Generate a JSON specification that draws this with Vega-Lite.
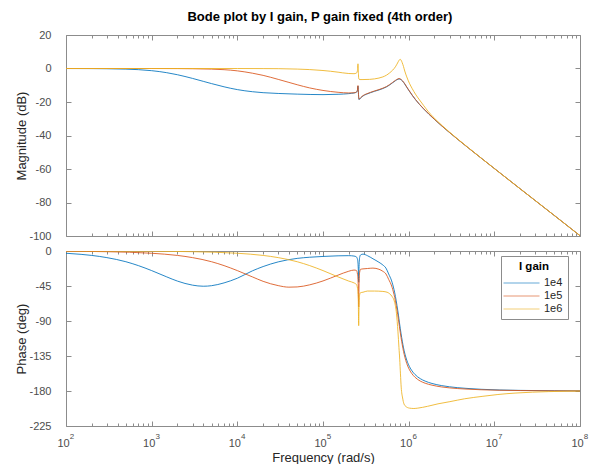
{
  "$schema": "https://vega.github.io/schema/vega-lite/v6.json",
  "background": "white",
  "padding": {"left": 15, "top": 11, "right": 5, "bottom": 0},
  "title": {"text": "Bode plot by I gain, P gain fixed (4th order)", "font": "Liberation Sans", "fontSize": 13, "fontWeight": "bold", "color": "#000000", "anchor": "middle", "offset": 5, "dx": 18},
  "config": {
    "view": {"stroke": null},
    "font": "Liberation Sans",
    "axis": {"domainColor": "#8c8c8c", "tickColor": "#8c8c8c", "labelColor": "#4d4d4d", "labelFontSize": 11, "titleFontSize": 13, "titleFontWeight": "normal", "titleColor": "#262626", "grid": false, "labelFont": "Liberation Sans", "titleFont": "Liberation Sans"}
  },
  "datasets": {
    "mag": [
      {"w":100,"g":"1e4","v":-0.02},{"w":200,"g":"1e4","v":-0.06},{"w":300,"g":"1e4","v":-0.14},{"w":500,"g":"1e4","v":-0.37},{"w":700,"g":"1e4","v":-0.69},{"w":1000,"g":"1e4","v":-1.3},{"w":1500,"g":"1e4","v":-2.5},{"w":2000,"g":"1e4","v":-3.73},{"w":3000,"g":"1e4","v":-5.92},{"w":4000,"g":"1e4","v":-7.66},{"w":5000,"g":"1e4","v":-9.02},{"w":7000,"g":"1e4","v":-10.93},{"w":10000,"g":"1e4","v":-12.6},{"w":15000,"g":"1e4","v":-13.86},{"w":20000,"g":"1e4","v":-14.44},{"w":30000,"g":"1e4","v":-14.9},{"w":50000,"g":"1e4","v":-15.3},{"w":100000,"g":"1e4","v":-15.6},{"w":150000,"g":"1e4","v":-15.4},{"w":200000,"g":"1e4","v":-15.0},{"w":230000,"g":"1e4","v":-14.6},{"w":245000,"g":"1e4","v":-14.2},{"w":252000,"g":"1e4","v":-13.2},{"w":256000,"g":"1e4","v":-10.5},{"w":258500,"g":"1e4","v":-13.5},{"w":261000,"g":"1e4","v":-17.5},{"w":263500,"g":"1e4","v":-18.6},{"w":268000,"g":"1e4","v":-18.2},{"w":275000,"g":"1e4","v":-17.6},{"w":285000,"g":"1e4","v":-16.9},{"w":293000,"g":"1e4","v":-16.4},{"w":320000,"g":"1e4","v":-15.4},{"w":360000,"g":"1e4","v":-14.4},{"w":400000,"g":"1e4","v":-13.6},{"w":450000,"g":"1e4","v":-12.8},{"w":500000,"g":"1e4","v":-11.95},{"w":550000,"g":"1e4","v":-11},{"w":600000,"g":"1e4","v":-9.8},{"w":650000,"g":"1e4","v":-8.5},{"w":700000,"g":"1e4","v":-7.3},{"w":750000,"g":"1e4","v":-6.4},{"w":773000,"g":"1e4","v":-6.2},{"w":796000,"g":"1e4","v":-6.4},{"w":850000,"g":"1e4","v":-7.6},{"w":900000,"g":"1e4","v":-9.3},{"w":950000,"g":"1e4","v":-11.2},{"w":1000000,"g":"1e4","v":-12.9},{"w":1100000,"g":"1e4","v":-16.0},{"w":1200000,"g":"1e4","v":-18.55},{"w":1340000,"g":"1e4","v":-21.5},{"w":1500000,"g":"1e4","v":-24.2},{"w":2000000,"g":"1e4","v":-30.4},{"w":3000000,"g":"1e4","v":-38.25},{"w":5000000,"g":"1e4","v":-47.5},{"w":10000000,"g":"1e4","v":-59.7},{"w":20000000,"g":"1e4","v":-71.8},{"w":50000000,"g":"1e4","v":-87.7},{"w":100000000,"g":"1e4","v":-99.8},
      {"w":100,"g":"1e5","v":0},{"w":1000,"g":"1e5","v":-0.01},{"w":2000,"g":"1e5","v":-0.06},{"w":3000,"g":"1e5","v":-0.14},{"w":5000,"g":"1e5","v":-0.37},{"w":7000,"g":"1e5","v":-0.7},{"w":10000,"g":"1e5","v":-1.4},{"w":15000,"g":"1e5","v":-2.8},{"w":20000,"g":"1e5","v":-4.1},{"w":30000,"g":"1e5","v":-6.5},{"w":40000,"g":"1e5","v":-8.3},{"w":50000,"g":"1e5","v":-9.7},{"w":70000,"g":"1e5","v":-11.6},{"w":100000,"g":"1e5","v":-13.1},{"w":150000,"g":"1e5","v":-14.2},{"w":200000,"g":"1e5","v":-14.6},{"w":230000,"g":"1e5","v":-14.5},{"w":245000,"g":"1e5","v":-14.1},{"w":252000,"g":"1e5","v":-13.0},{"w":256000,"g":"1e5","v":-10.2},{"w":258500,"g":"1e5","v":-13.3},{"w":261000,"g":"1e5","v":-17.3},{"w":263500,"g":"1e5","v":-18.4},{"w":268000,"g":"1e5","v":-18.0},{"w":275000,"g":"1e5","v":-17.4},{"w":285000,"g":"1e5","v":-16.7},{"w":293000,"g":"1e5","v":-16.2},{"w":320000,"g":"1e5","v":-15.2},{"w":360000,"g":"1e5","v":-14.2},{"w":400000,"g":"1e5","v":-13.4},{"w":450000,"g":"1e5","v":-12.6},{"w":500000,"g":"1e5","v":-11.75},{"w":550000,"g":"1e5","v":-10.8},{"w":600000,"g":"1e5","v":-9.6},{"w":650000,"g":"1e5","v":-8.3},{"w":700000,"g":"1e5","v":-7.1},{"w":750000,"g":"1e5","v":-6.2},{"w":773000,"g":"1e5","v":-6.0},{"w":796000,"g":"1e5","v":-6.2},{"w":850000,"g":"1e5","v":-7.4},{"w":900000,"g":"1e5","v":-9.1},{"w":950000,"g":"1e5","v":-11.0},{"w":1000000,"g":"1e5","v":-12.8},{"w":1100000,"g":"1e5","v":-15.9},{"w":1200000,"g":"1e5","v":-18.5},{"w":1340000,"g":"1e5","v":-21.4},{"w":1500000,"g":"1e5","v":-24.1},{"w":2000000,"g":"1e5","v":-30.35},{"w":3000000,"g":"1e5","v":-38.2},{"w":5000000,"g":"1e5","v":-47.5},{"w":10000000,"g":"1e5","v":-59.7},{"w":20000000,"g":"1e5","v":-71.8},{"w":50000000,"g":"1e5","v":-87.7},{"w":100000000,"g":"1e5","v":-99.8},
      {"w":100,"g":"1e6","v":0},{"w":1000,"g":"1e6","v":0},{"w":10000,"g":"1e6","v":0},{"w":20000,"g":"1e6","v":-0.05},{"w":30000,"g":"1e6","v":-0.1},{"w":50000,"g":"1e6","v":-0.35},{"w":70000,"g":"1e6","v":-0.65},{"w":100000,"g":"1e6","v":-1.2},{"w":150000,"g":"1e6","v":-2.2},{"w":170000,"g":"1e6","v":-2.6},{"w":200000,"g":"1e6","v":-3.0},{"w":230000,"g":"1e6","v":-3.1},{"w":245000,"g":"1e6","v":-2.8},{"w":252000,"g":"1e6","v":-1.5},{"w":256000,"g":"1e6","v":2.8},{"w":258500,"g":"1e6","v":-1},{"w":261000,"g":"1e6","v":-5.8},{"w":263500,"g":"1e6","v":-6.4},{"w":270000,"g":"1e6","v":-6.6},{"w":293000,"g":"1e6","v":-6.6},{"w":350000,"g":"1e6","v":-6.5},{"w":400000,"g":"1e6","v":-6.2},{"w":450000,"g":"1e6","v":-5.7},{"w":500000,"g":"1e6","v":-5.0},{"w":550000,"g":"1e6","v":-4.0},{"w":600000,"g":"1e6","v":-2.6},{"w":650000,"g":"1e6","v":-1.0},{"w":700000,"g":"1e6","v":1.0},{"w":730000,"g":"1e6","v":2.6},{"w":760000,"g":"1e6","v":4.3},{"w":780000,"g":"1e6","v":5.2},{"w":796000,"g":"1e6","v":5.5},{"w":815000,"g":"1e6","v":5.0},{"w":840000,"g":"1e6","v":3.5},{"w":870000,"g":"1e6","v":1.2},{"w":900000,"g":"1e6","v":-1.5},{"w":950000,"g":"1e6","v":-5.0},{"w":1020000,"g":"1e6","v":-8.8},{"w":1100000,"g":"1e6","v":-12.0},{"w":1200000,"g":"1e6","v":-15.3},{"w":1340000,"g":"1e6","v":-18.8},{"w":1500000,"g":"1e6","v":-22.2},{"w":1700000,"g":"1e6","v":-25.8},{"w":1920000,"g":"1e6","v":-28.8},{"w":2500000,"g":"1e6","v":-34.4},{"w":3000000,"g":"1e6","v":-38.0},{"w":5000000,"g":"1e6","v":-47.4},{"w":10000000,"g":"1e6","v":-59.7},{"w":20000000,"g":"1e6","v":-71.8},{"w":50000000,"g":"1e6","v":-87.7},{"w":100000000,"g":"1e6","v":-99.8}
    ],
    "ph": [
      {"w":100,"g":"1e4","v":-2.9},{"w":150,"g":"1e4","v":-4.3},{"w":200,"g":"1e4","v":-5.7},{"w":300,"g":"1e4","v":-8.5},{"w":500,"g":"1e4","v":-13.8},{"w":700,"g":"1e4","v":-18.8},{"w":1000,"g":"1e4","v":-25.2},{"w":1500,"g":"1e4","v":-33.3},{"w":2000,"g":"1e4","v":-38.7},{"w":3000,"g":"1e4","v":-43.9},{"w":4000,"g":"1e4","v":-45.3},{"w":5000,"g":"1e4","v":-44.6},{"w":7000,"g":"1e4","v":-41},{"w":10000,"g":"1e4","v":-35},{"w":15000,"g":"1e4","v":-25.5},{"w":20000,"g":"1e4","v":-20},{"w":30000,"g":"1e4","v":-14},{"w":50000,"g":"1e4","v":-9.5},{"w":70000,"g":"1e4","v":-8},{"w":100000,"g":"1e4","v":-7},{"w":150000,"g":"1e4","v":-6.2},{"w":200000,"g":"1e4","v":-6},{"w":230000,"g":"1e4","v":-6.5},{"w":245000,"g":"1e4","v":-7.5},{"w":253000,"g":"1e4","v":-11},{"w":258000,"g":"1e4","v":-22},{"w":261000,"g":"1e4","v":-40},{"w":263500,"g":"1e4","v":-20},{"w":268000,"g":"1e4","v":-8},{"w":275000,"g":"1e4","v":-5},{"w":293000,"g":"1e4","v":-4},{"w":330000,"g":"1e4","v":-6},{"w":383000,"g":"1e4","v":-10},{"w":450000,"g":"1e4","v":-14.5},{"w":500000,"g":"1e4","v":-18},{"w":543000,"g":"1e4","v":-22},{"w":584000,"g":"1e4","v":-29.5},{"w":633000,"g":"1e4","v":-38.5},{"w":674000,"g":"1e4","v":-49.5},{"w":701000,"g":"1e4","v":-58.5},{"w":730000,"g":"1e4","v":-70},{"w":760000,"g":"1e4","v":-82.5},{"w":779000,"g":"1e4","v":-91.5},{"w":799000,"g":"1e4","v":-100},{"w":828000,"g":"1e4","v":-111},{"w":857000,"g":"1e4","v":-120.5},{"w":886000,"g":"1e4","v":-128.3},{"w":925000,"g":"1e4","v":-136.3},{"w":974000,"g":"1e4","v":-143.6},{"w":1023000,"g":"1e4","v":-148.8},{"w":1091000,"g":"1e4","v":-154},{"w":1188000,"g":"1e4","v":-158.9},{"w":1364000,"g":"1e4","v":-164.1},{"w":1558000,"g":"1e4","v":-167.3},{"w":1870000,"g":"1e4","v":-170.3},{"w":2435000,"g":"1e4","v":-173.1},{"w":3000000,"g":"1e4","v":-174.6},{"w":4670000,"g":"1e4","v":-176.6},{"w":7000000,"g":"1e4","v":-177.8},{"w":11600000,"g":"1e4","v":-178.7},{"w":20000000,"g":"1e4","v":-179.2},{"w":50000000,"g":"1e4","v":-179.7},{"w":100000000,"g":"1e4","v":-179.8},
      {"w":100,"g":"1e5","v":-0.3},{"w":300,"g":"1e5","v":-0.9},{"w":1000,"g":"1e5","v":-2.9},{"w":2000,"g":"1e5","v":-5.7},{"w":3000,"g":"1e5","v":-8.5},{"w":5000,"g":"1e5","v":-13.8},{"w":7000,"g":"1e5","v":-18.8},{"w":10000,"g":"1e5","v":-25.2},{"w":15000,"g":"1e5","v":-33.3},{"w":20000,"g":"1e5","v":-39},{"w":30000,"g":"1e5","v":-44.5},{"w":40000,"g":"1e5","v":-46.5},{"w":50000,"g":"1e5","v":-46.2},{"w":70000,"g":"1e5","v":-43.5},{"w":100000,"g":"1e5","v":-38.5},{"w":150000,"g":"1e5","v":-31},{"w":200000,"g":"1e5","v":-26},{"w":230000,"g":"1e5","v":-24.5},{"w":245000,"g":"1e5","v":-25},{"w":253000,"g":"1e5","v":-30},{"w":258000,"g":"1e5","v":-45},{"w":261000,"g":"1e5","v":-72},{"w":263500,"g":"1e5","v":-42},{"w":268000,"g":"1e5","v":-27},{"w":275000,"g":"1e5","v":-23.5},{"w":293000,"g":"1e5","v":-23},{"w":330000,"g":"1e5","v":-22.5},{"w":383000,"g":"1e5","v":-22},{"w":450000,"g":"1e5","v":-23.5},{"w":500000,"g":"1e5","v":-26.1},{"w":543000,"g":"1e5","v":-29.5},{"w":584000,"g":"1e5","v":-36.5},{"w":633000,"g":"1e5","v":-45},{"w":674000,"g":"1e5","v":-55.7},{"w":701000,"g":"1e5","v":-64.5},{"w":730000,"g":"1e5","v":-75.8},{"w":760000,"g":"1e5","v":-88.1},{"w":779000,"g":"1e5","v":-96.9},{"w":799000,"g":"1e5","v":-105.2},{"w":828000,"g":"1e5","v":-116},{"w":857000,"g":"1e5","v":-125.3},{"w":886000,"g":"1e5","v":-132.9},{"w":925000,"g":"1e5","v":-140.7},{"w":974000,"g":"1e5","v":-147.8},{"w":1023000,"g":"1e5","v":-152.8},{"w":1091000,"g":"1e5","v":-157.8},{"w":1188000,"g":"1e5","v":-162.4},{"w":1364000,"g":"1e5","v":-167.2},{"w":1558000,"g":"1e5","v":-170},{"w":1870000,"g":"1e5","v":-172.5},{"w":2435000,"g":"1e5","v":-174.8},{"w":3000000,"g":"1e5","v":-176},{"w":4670000,"g":"1e5","v":-177.5},{"w":7000000,"g":"1e5","v":-178.4},{"w":11600000,"g":"1e5","v":-179.05},{"w":20000000,"g":"1e5","v":-179.4},{"w":50000000,"g":"1e5","v":-179.8},{"w":100000000,"g":"1e5","v":-179.9},
      {"w":100,"g":"1e6","v":0},{"w":1000,"g":"1e6","v":-0.3},{"w":3000,"g":"1e6","v":-0.9},{"w":10000,"g":"1e6","v":-2.9},{"w":20000,"g":"1e6","v":-5.7},{"w":30000,"g":"1e6","v":-8.5},{"w":50000,"g":"1e6","v":-13.8},{"w":70000,"g":"1e6","v":-18.8},{"w":100000,"g":"1e6","v":-25.2},{"w":150000,"g":"1e6","v":-33.3},{"w":200000,"g":"1e6","v":-38.7},{"w":230000,"g":"1e6","v":-41},{"w":245000,"g":"1e6","v":-43},{"w":253000,"g":"1e6","v":-48},{"w":258000,"g":"1e6","v":-62},{"w":261000,"g":"1e6","v":-96},{"w":263500,"g":"1e6","v":-70},{"w":268000,"g":"1e6","v":-56},{"w":275000,"g":"1e6","v":-53.5},{"w":293000,"g":"1e6","v":-53},{"w":330000,"g":"1e6","v":-51.5},{"w":400000,"g":"1e6","v":-51.5},{"w":500000,"g":"1e6","v":-52},{"w":560000,"g":"1e6","v":-53},{"w":600000,"g":"1e6","v":-55},{"w":640000,"g":"1e6","v":-58.5},{"w":686000,"g":"1e6","v":-66},{"w":720000,"g":"1e6","v":-80},{"w":750000,"g":"1e6","v":-104},{"w":770000,"g":"1e6","v":-124},{"w":786000,"g":"1e6","v":-139},{"w":802000,"g":"1e6","v":-158},{"w":818000,"g":"1e6","v":-175},{"w":850000,"g":"1e6","v":-189},{"w":881000,"g":"1e6","v":-196.5},{"w":930000,"g":"1e6","v":-200},{"w":1020000,"g":"1e6","v":-202},{"w":1150000,"g":"1e6","v":-202.5},{"w":1280000,"g":"1e6","v":-202},{"w":1660000,"g":"1e6","v":-199.7},{"w":2200000,"g":"1e6","v":-196.5},{"w":3030000,"g":"1e6","v":-193.7},{"w":4500000,"g":"1e6","v":-190},{"w":7360000,"g":"1e6","v":-186.8},{"w":11000000,"g":"1e6","v":-184.5},{"w":17900000,"g":"1e6","v":-182.6},{"w":28000000,"g":"1e6","v":-181.5},{"w":42700000,"g":"1e6","v":-180.8},{"w":70000000,"g":"1e6","v":-180.3},{"w":100000000,"g":"1e6","v":-180.1}
    ]
  },
  "spacing": 4,
  "resolve": {"scale": {"color": "independent"}, "legend": {"color": "independent"}},
  "vconcat": [
    {
      "width": 514, "height": 201,
      "data": {"name": "mag"},
      "layer": [
        {
          "mark": {"type": "line", "strokeWidth": 1, "opacity": 0.85, "clip": true, "interpolate": "monotone"},
          "encoding": {
            "x": {"field": "w", "type": "quantitative", "scale": {"type": "log", "domain": [100, 100000000], "nice": false},
                  "axis": {"orient": "bottom", "title": null, "labels": false, "values": [100,200,300,400,500,600,700,800,900,1000,2000,3000,4000,5000,6000,7000,8000,9000,10000,20000,30000,40000,50000,60000,70000,80000,90000,100000,200000,300000,400000,500000,600000,700000,800000,900000,1000000,2000000,3000000,4000000,5000000,6000000,7000000,8000000,9000000,10000000,20000000,30000000,40000000,50000000,60000000,70000000,80000000,90000000,100000000],
                           "tickSize": {"condition": {"test": "abs(log(datum.value)/LN10 - round(log(datum.value)/LN10)) < 0.001", "value": -5}, "value": -3}}},
            "y": {"field": "v", "type": "quantitative", "scale": {"domain": [-100, 20], "nice": false},
                  "axis": {"orient": "left", "title": "Magnitude (dB)", "values": [-100,-80,-60,-40,-20,0,20], "tickSize": -5, "labelPadding": 20, "labelExpr": "'' + datum.value", "titlePadding": 0}},
            "color": {"field": "g", "type": "nominal", "scale": {"domain": ["1e4","1e5","1e6"], "range": ["#0072BD","#D95319","#EDB120"]}, "legend": null}
          }
        },
        {
          "mark": {"type": "line", "opacity": 0},
          "encoding": {
            "x": {"field": "w", "type": "quantitative", "scale": {"type": "log", "domain": [100, 100000000], "nice": false},
                  "axis": {"orient": "top", "title": null, "labels": false, "values": [100,200,300,400,500,600,700,800,900,1000,2000,3000,4000,5000,6000,7000,8000,9000,10000,20000,30000,40000,50000,60000,70000,80000,90000,100000,200000,300000,400000,500000,600000,700000,800000,900000,1000000,2000000,3000000,4000000,5000000,6000000,7000000,8000000,9000000,10000000,20000000,30000000,40000000,50000000,60000000,70000000,80000000,90000000,100000000],
                           "tickSize": {"condition": {"test": "abs(log(datum.value)/LN10 - round(log(datum.value)/LN10)) < 0.001", "value": -5}, "value": -3}}},
            "y": {"field": "v", "type": "quantitative", "scale": {"domain": [-100, 20], "nice": false},
                  "axis": {"orient": "right", "title": null, "labels": false, "values": [-100,-80,-60,-40,-20,0,20], "tickSize": -5}}
          }
        }
      ],
      "resolve": {"axis": {"x": "independent", "y": "independent"}}
    },
    {
      "width": 514, "height": 175,
      "data": {"name": "ph"},
      "layer": [
        {
          "mark": {"type": "line", "strokeWidth": 1, "opacity": 0.85, "clip": true, "interpolate": "monotone"},
          "encoding": {
            "x": {"field": "w", "type": "quantitative", "scale": {"type": "log", "domain": [100, 100000000], "nice": false},
                  "axis": {"orient": "bottom", "title": "Frequency  (rad/s)", "values": [100,200,300,400,500,600,700,800,900,1000,2000,3000,4000,5000,6000,7000,8000,9000,10000,20000,30000,40000,50000,60000,70000,80000,90000,100000,200000,300000,400000,500000,600000,700000,800000,900000,1000000,2000000,3000000,4000000,5000000,6000000,7000000,8000000,9000000,10000000,20000000,30000000,40000000,50000000,60000000,70000000,80000000,90000000,100000000],
                           "tickSize": {"condition": {"test": "abs(log(datum.value)/LN10 - round(log(datum.value)/LN10)) < 0.001", "value": -5}, "value": -3},
                           "labelExpr": "abs(log(datum.value)/LN10 - round(log(datum.value)/LN10)) < 0.001 ? '10' : ''", "labelOffset": -3, "labelPadding": 16, "labelFlush": false, "labelOverlap": false, "titlePadding": 1}},
            "y": {"field": "v", "type": "quantitative", "scale": {"domain": [-225, 0], "nice": false},
                  "axis": {"orient": "left", "title": "Phase (deg)", "values": [-225,-180,-135,-90,-45,0], "tickSize": -5, "labelPadding": 20, "labelExpr": "'' + datum.value", "titlePadding": 0}},
            "color": {"field": "g", "type": "nominal", "scale": {"domain": ["1e4","1e5","1e6"], "range": ["#0072BD","#D95319","#EDB120"]},
                      "legend": {"title": "I gain", "orient": "none", "legendX": 435, "legendY": 5, "symbolType": "M-6,0H6", "symbolSize": 36, "symbolStrokeWidth": 1, "symbolOpacity": 0.6, "symbolOffset": 10, "labelOffset": 17, "strokeColor": "#8c8c8c", "fillColor": "white", "padding": 5, "titleFontWeight": "bold", "titleFontSize": 11.5, "titleColor": "#000000", "titlePadding": 5, "labelFontSize": 11, "labelColor": "#262626", "titleAnchor": "middle", "rowPadding": 1}}
          }
        },
        {
          "mark": {"type": "line", "opacity": 0},
          "encoding": {
            "x": {"field": "w", "type": "quantitative", "scale": {"type": "log", "domain": [100, 100000000], "nice": false},
                  "axis": {"orient": "top", "title": null, "labels": false, "values": [100,200,300,400,500,600,700,800,900,1000,2000,3000,4000,5000,6000,7000,8000,9000,10000,20000,30000,40000,50000,60000,70000,80000,90000,100000,200000,300000,400000,500000,600000,700000,800000,900000,1000000,2000000,3000000,4000000,5000000,6000000,7000000,8000000,9000000,10000000,20000000,30000000,40000000,50000000,60000000,70000000,80000000,90000000,100000000],
                           "tickSize": {"condition": {"test": "abs(log(datum.value)/LN10 - round(log(datum.value)/LN10)) < 0.001", "value": -5}, "value": -3}}},
            "y": {"field": "v", "type": "quantitative", "scale": {"domain": [-225, 0], "nice": false},
                  "axis": {"orient": "right", "title": null, "labels": false, "values": [-225,-180,-135,-90,-45,0], "tickSize": -5}}
          }
        },
        {
          "mark": {"type": "line", "opacity": 0},
          "encoding": {
            "x": {"field": "w", "type": "quantitative", "scale": {"type": "log", "domain": [100, 100000000], "nice": false},
                  "axis": {"orient": "bottom", "title": null, "domain": false, "ticks": false, "values": [100,1000,10000,100000,1000000,10000000,100000000],
                           "labelExpr": "'' + round(log(datum.value)/LN10)", "labelFontSize": 8, "labelOffset": 5.5, "labelPadding": 6, "labelFlush": false, "labelOverlap": false}},
            "y": {"field": "v", "type": "quantitative", "scale": {"domain": [-225, 0], "nice": false}, "axis": null}
          }
        }
      ],
      "resolve": {"axis": {"x": "independent", "y": "independent"}}
    }
  ]
}
